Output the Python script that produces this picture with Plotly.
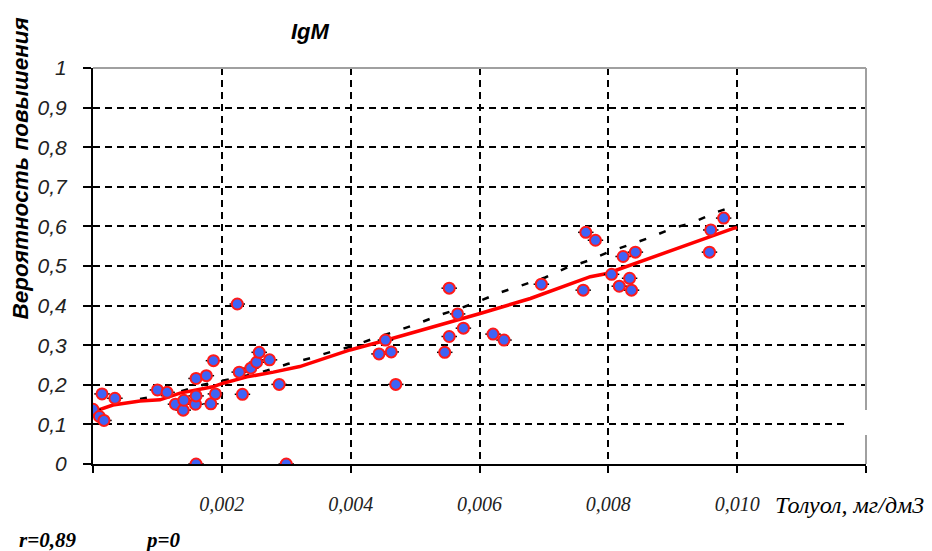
import plotly.graph_objects as go

# --- data ---
pts_x = [0.0, 0.0001, 0.00017, 0.00014, 0.00034, 0.0010, 0.00115, 0.00128, 0.0014, 0.00141,
         0.00159, 0.0016, 0.0016, 0.0016, 0.00176, 0.00183, 0.00187, 0.0019, 0.00224, 0.00227,
         0.00232, 0.00245, 0.00254, 0.00258, 0.00274, 0.00289, 0.0030, 0.00444, 0.00454, 0.00463,
         0.0047, 0.00546, 0.00553, 0.00553, 0.00566, 0.00575, 0.00621, 0.00638, 0.00696, 0.00761,
         0.00765, 0.0078, 0.00805, 0.00817, 0.00823, 0.00833, 0.00836, 0.00842, 0.00957, 0.00959,
         0.00979]
pts_y = [0.138, 0.12, 0.11, 0.177, 0.166, 0.187, 0.181, 0.151, 0.136, 0.161,
         0.151, 0.172, 0.216, 0.0, 0.223, 0.152, 0.261, 0.177, 0.404, 0.232,
         0.176, 0.242, 0.257, 0.282, 0.263, 0.201, 0.0, 0.278, 0.313, 0.283,
         0.201, 0.282, 0.322, 0.444, 0.379, 0.343, 0.328, 0.313, 0.454, 0.439,
         0.585, 0.565, 0.479, 0.449, 0.524, 0.469, 0.439, 0.535, 0.535, 0.591,
         0.621]

red_x = [0.0, 0.00031, 0.00073, 0.00104, 0.00135, 0.00186, 0.00202, 0.00239, 0.0028, 0.00321,
         0.00399, 0.00456, 0.00601, 0.00679, 0.00772, 0.00798, 0.00994, 0.0100]
red_y = [0.132, 0.149, 0.159, 0.162, 0.179, 0.195, 0.204, 0.220, 0.232, 0.246,
         0.288, 0.313, 0.380, 0.418, 0.473, 0.481, 0.595, 0.597]

dash_x = [0.00073, 0.00135, 0.00171, 0.00202, 0.00244, 0.0027, 0.00303, 0.00337, 0.00373, 0.00404,
          0.00441, 0.00472, 0.00505, 0.00538, 0.0057, 0.00601, 0.00632, 0.00669, 0.00702, 0.00733,
          0.00768, 0.0080, 0.00831, 0.00865, 0.00899, 0.00932, 0.00963, 0.00993]
dash_y = [0.164, 0.183, 0.200, 0.210, 0.225, 0.236, 0.253, 0.267, 0.285, 0.298,
          0.320, 0.336, 0.355, 0.376, 0.393, 0.412, 0.433, 0.453, 0.471, 0.494,
          0.513, 0.535, 0.553, 0.572, 0.595, 0.610, 0.633, 0.650]

x_ticks = [0.0, 0.002, 0.004, 0.006, 0.008, 0.010, 0.012]
x_ticktext = ["", "0,002", "0,004", "0,006", "0,008", "0,010", ""]
x_grid = [0.002, 0.004, 0.006, 0.008, 0.010]
y_ticks = [0.0, 0.1, 0.2, 0.3, 0.4, 0.5, 0.6, 0.7, 0.8, 0.9, 1.0]
y_ticktext = ["0", "0,1", "0,2", "0,3", "0,4", "0,5", "0,6", "0,7", "0,8", "0,9", "1"]
y_grid = [0.1, 0.2, 0.3, 0.4, 0.5, 0.6, 0.7, 0.8, 0.9]

title_text = "IgM"
y_title = "Вероятность повышения"
x_title = "Толуол, мг/дм3"
r_text = "r=0,89"
p_text = "p=0"

SANS = "Liberation Sans, Arial, sans-serif"
SERIF = "Liberation Serif, Times New Roman, serif"

fig = go.Figure()
fig.add_trace(go.Scatter(x=dash_x, y=dash_y, mode="lines",
                         line=dict(color="black", width=2.5, dash="7px,14px"),
                         hoverinfo="skip", showlegend=False))
fig.add_trace(go.Scatter(x=red_x, y=red_y, mode="lines",
                         line=dict(color="#ff0000", width=3.5),
                         hoverinfo="skip", showlegend=False))
fig.add_trace(go.Scatter(x=pts_x, y=pts_y, mode="markers",
                         marker=dict(symbol="circle", size=11, color="#3f63f5",
                                     line=dict(color="#ff1a1a", width=2)),
                         error_x=dict(type="constant", value=0.00012, color="black",
                                      thickness=1.5, width=0),
                         showlegend=False))

fig.update_layout(
    width=932, height=551,
    margin=dict(l=93, r=66, t=68, b=87),
    paper_bgcolor="white", plot_bgcolor="white",
    showlegend=False,
    xaxis=dict(range=[0, 0.012], tickmode="array", tickvals=x_ticks, ticktext=x_ticktext,
               showgrid=False, zeroline=False,
               showline=True, linecolor="black", linewidth=2,
               ticks="outside", ticklen=7, tickwidth=2, tickcolor="black",
               tickfont=dict(family=SERIF, size=20, color="#222", style="italic"),
               ticklabelstandoff=14,
               minor=dict(tickmode="array", tickvals=x_grid, showgrid=True, gridcolor="black",
                          gridwidth=1.5, griddash="7px,5px", ticks="")),
    yaxis=dict(range=[0, 1.0], tickmode="array", tickvals=y_ticks, ticktext=y_ticktext,
               showgrid=False, zeroline=False,
               showline=True, linecolor="black", linewidth=2,
               ticks="outside", ticklen=8, tickwidth=2, tickcolor="black",
               tickfont=dict(family=SANS, size=21, color="#222", style="italic"),
               ticklabelstandoff=12,
               minor=dict(tickmode="array", tickvals=y_grid, showgrid=True, gridcolor="black",
                          gridwidth=1.5, griddash="7px,5px", ticks="")),
    shapes=[
        dict(type="line", xref="paper", yref="paper", x0=0, x1=1, y0=1, y1=1,
             line=dict(color="#a0a0a0", width=2)),
        dict(type="line", xref="paper", yref="paper", x0=1, x1=1, y0=0, y1=1,
             line=dict(color="#a0a0a0", width=2)),
        dict(type="rect", xref="paper", yref="paper", x0=0.9728, x1=1.01, y0=0.0732, y1=0.1364,
             fillcolor="white", line=dict(width=0), layer="above"),
    ],
    annotations=[
        dict(text=f"<b><i>{title_text}</i></b>", xref="paper", yref="paper", x=0.281, y=1.091,
             xanchor="center", yanchor="middle", showarrow=False,
             font=dict(family=SANS, size=22, color="black")),
        dict(text=f"<b><i>{y_title}</i></b>", xref="paper", yref="paper", x=-0.094, y=0.747,
             xanchor="center", yanchor="middle", textangle=-90, showarrow=False,
             font=dict(family=SANS, size=22.5, color="black")),
        dict(text=f"<i>{x_title}</i>", xref="paper", yref="paper", x=0.8797, y=-0.1035,
             xanchor="left", yanchor="middle", showarrow=False,
             font=dict(family=SERIF, size=24, color="black")),
        dict(text=f"<b><i>{r_text}</i></b>", xref="paper", yref="paper", x=-0.098, y=-0.192,
             xanchor="left", yanchor="middle", showarrow=False,
             font=dict(family=SERIF, size=21, color="black")),
        dict(text=f"<b><i>{p_text}</i></b>", xref="paper", yref="paper", x=0.0647, y=-0.192,
             xanchor="left", yanchor="middle", showarrow=False,
             font=dict(family=SERIF, size=21, color="black")),
    ],
)

fig.write_html("out.html", config={"displayModeBar": False},
               post_script="document.body.style.margin='0';")
